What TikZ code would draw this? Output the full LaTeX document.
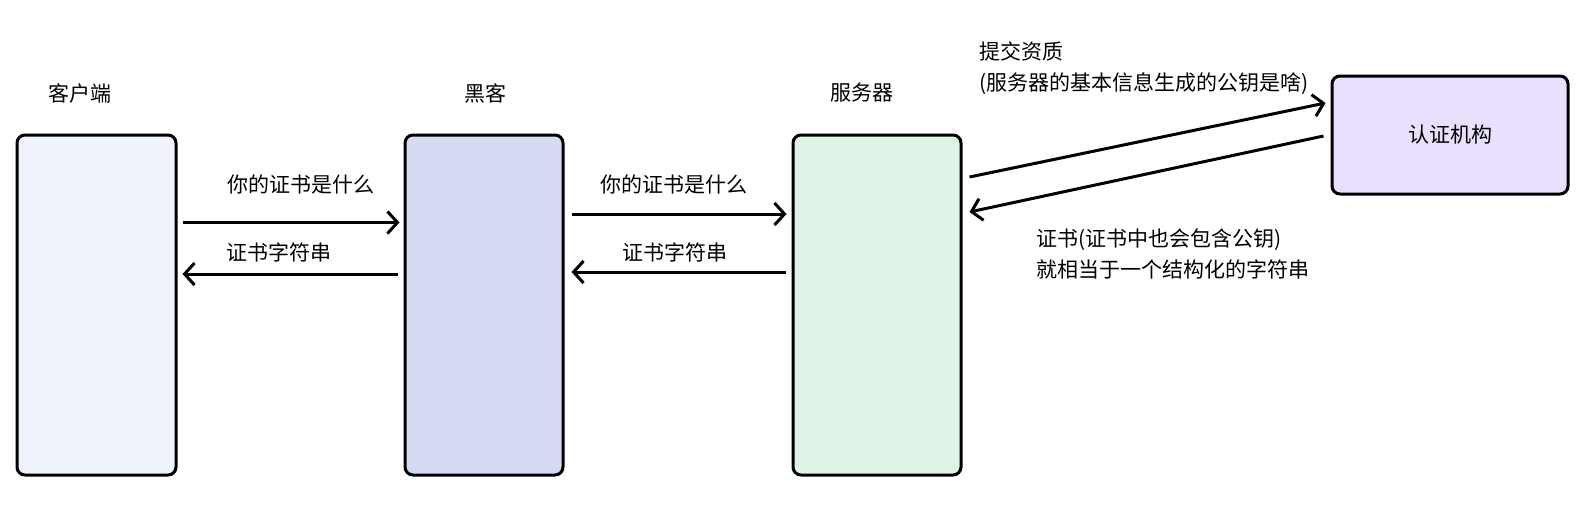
\documentclass[tikz,border=0pt]{standalone}
\usepackage{fontspec}
\newfontfamily\cjk{Noto Sans CJK SC}
\usetikzlibrary{arrows.meta}
\definecolor{clientfill}{HTML}{EEF3FC}
\definecolor{hackerfill}{HTML}{D6DBF4}
\definecolor{serverfill}{HTML}{DFF4E6}
\definecolor{cafill}{HTML}{E8E0FD}
\begin{document}
\begin{tikzpicture}[x=0.5pt, y=-0.5pt, >={Straight Barb[length=5pt,width=11pt]}, line width=1.5pt,
	every node/.style={font=\cjk\fontsize{10.5}{15.5}\selectfont, inner sep=0pt},
	box/.style={draw, rounded corners=4pt, line width=1.5pt},
	msg/.style={->, line width=1.5pt}]
	\useasboundingbox (0,0) rectangle (1593,515);
	
	% 1. 四个方框
	\node[box, fill=clientfill, minimum width=79.5pt, minimum height=170pt] (client) at (96.5,305) {};
	\node[box, fill=hackerfill, minimum width=79pt, minimum height=170pt] (hacker) at (484,305) {};
	\node[box, fill=serverfill, minimum width=84pt, minimum height=170pt] (server) at (877,305) {};
	\node[box, fill=cafill, minimum width=118pt, minimum height=59pt] (ca) at (1450,135) {认证机构};
	
	% 2. 方框上方的名称
	\node (clientname) at (80,93) {客户端};
	\node (hackername) at (485,93) {黑客};
	\node (servername) at (862,93) {服务器};
	
	% 3. 客户端 <-> 黑客
	\draw[msg] ([shift={(5,-82.5)}]client.east) -- ([shift={(-4,-82.5)}]hacker.west);
	\draw[msg] ([shift={(-6,-31)}]hacker.west) -- ([shift={(5,-31)}]client.east);
	\node (ask1) at (301,184) {你的证书是什么};
	\node (reply1) at (279,252) {证书字符串};
	
	% 4. 黑客 <-> 服务器
	\draw[msg] ([shift={(7,-91)}]hacker.east) -- ([shift={(-5,-91)}]server.west);
	\draw[msg] ([shift={(-6,-33)}]server.west) -- ([shift={(7,-33)}]hacker.east);
	\node (ask2) at (674,184) {你的证书是什么};
	\node (reply2) at (675,252) {证书字符串};
	
	% 5. 服务器 <-> 认证机构 (斜线)
	\draw[msg] ([shift={(7,-128)}]server.east) -- ([shift={(-5,-32)}]ca.west);
	\draw[msg] ([shift={(-7,1)}]ca.west) -- ([shift={(7,-93)}]server.east);
	\node[anchor=west, align=left] (submit) at (978,68.5) {提交资质\\(服务器的基本信息生成的公钥是啥)};
	\node[anchor=west, align=left] (cert) at (1035,254) {证书(证书中也会包含公钥)\\就相当于一个结构化的字符串};
\end{tikzpicture}
\end{document}
